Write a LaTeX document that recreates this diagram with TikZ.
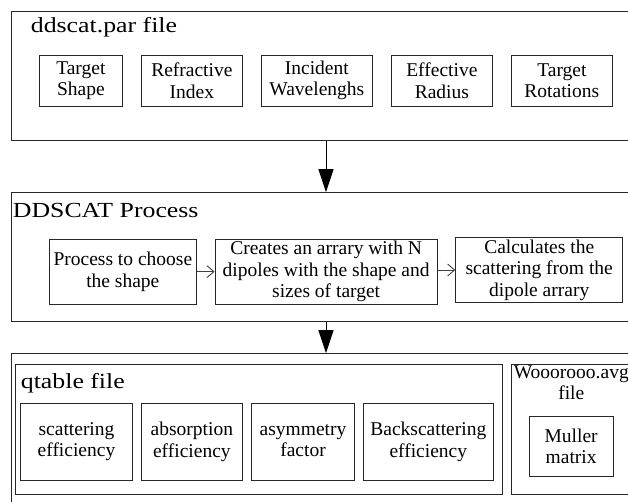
\documentclass[tikz,border=0pt]{standalone}
\usepackage{fontspec}
\setmainfont{Liberation Serif}
\newfontfamily\titlefont[FakeStretch=1.2]{Liberation Serif}
\usetikzlibrary{arrows.meta}
\tikzset{
  x=1pt, y=-1pt,
  every node/.style={font=\fontsize{19.5}{21.5}\selectfont},
  container/.style={draw=black!85, line width=1pt, rectangle, inner sep=0pt},
  itembox/.style={draw=black!85, line width=0.9pt, rectangle, inner sep=0pt, align=center},
  titletext/.style={font=\titlefont\fontsize{21.5}{24}\selectfont, anchor=base west, inner sep=0pt},
  plaintext/.style={inner sep=0pt, anchor=base},
  bigarrow/.style={line width=1pt, draw=black, -{Triangle[length=23pt,width=15pt]}},
  smallarrow/.style={line width=0.9pt, draw=black!75, -{Straight Barb[length=7pt,width=12pt]}}
}
\begin{document}
\begin{tikzpicture}
\fill[white] (0,0) rectangle (628,502);
\useasboundingbox (0,0) rectangle (628,502);
\clip (0,0) rectangle (628,502);

% ---- ddscat.par file ----
\node[container, minimum width=628.6pt, minimum height=129pt] (par) at (326,76.2) {};
\node[titletext] (partitle) at (30.7,32.3) {ddscat.par file};
\node[itembox, minimum width=83.7pt, minimum height=51pt] (shape) at (80.85,80.5) {Target\\Shape};
\node[itembox, minimum width=101.7pt, minimum height=51pt] (index) at (191.85,80.5) {Refractive\\Index};
\node[itembox, minimum width=111.7pt, minimum height=51pt] (wave) at (316.85,80.5) {Incident\\Wavelenghs};
\node[itembox, minimum width=101.7pt, minimum height=51pt] (radius) at (441.85,80.5) {Effective\\Radius};
\node[itembox, minimum width=101.7pt, minimum height=51pt] (rot) at (561.85,80.5) {Target\\Rotations};

% ---- DDSCAT Process ----
\node[container, minimum width=628.6pt, minimum height=129pt] (proc) at (326,257.2) {};
\node[titletext] (proctitle) at (12.7,217.3) {DDSCAT Process};
\node[itembox, minimum width=147.7pt, minimum height=65.3pt] (choose) at (122.85,271.65) {Process to choose\\the shape};
\node[itembox, minimum width=222.3pt, minimum height=65pt] (create) at (326.15,271.5) {Creates an arrary with N\\dipoles with the shape and\\sizes of target};
\node[itembox, minimum width=167pt, minimum height=65.4pt] (calc) at (539.2,270) {Calculates the\\scattering from the\\dipole arrary};

% ---- output ----
\node[container, minimum width=628.6pt, minimum height=161.3pt] (out) at (326,434.35) {};
\node[container, line width=0.9pt, minimum width=487.3pt, minimum height=129.7pt] (qtable) at (258.65,429.15) {};
\node[titletext] (qtitle) at (20.7,388.3) {qtable file};
\node[itembox, minimum width=111.6pt, minimum height=76.7pt] (qsca) at (76.5,441.65) {scattering\\efficiency};
\node[itembox, minimum width=101.7pt, minimum height=76.7pt] (qabs) at (191.85,441.65) {absorption\\efficiency};
\node[itembox, minimum width=102.6pt, minimum height=76.7pt] (asym) at (303,441.65) {\raisebox{4pt}{\begin{tabular}{@{}c@{}}asymmetry\\factor\end{tabular}}};
\node[itembox, minimum width=130pt, minimum height=76.7pt] (qback) at (428.3,441.65) {Backscattering\\efficiency};

\node[container, line width=0.9pt, minimum width=129pt, minimum height=129.7pt] (avg) at (575.5,429.15) {};
\node[plaintext] (avgname) at (571.3,378.3) {Wooorooo.avg};
\node[plaintext] (avgfile) at (571.3,399.3) {file};
\node[itembox, minimum width=84.3pt, minimum height=60.7pt] (muller) at (571.15,446.35) {Muller\\matrix};

% ---- connectors ----
\draw[bigarrow] (par.south) -- (proc.north);
\draw[bigarrow] (proc.south) -- (out.north);
\draw[smallarrow] (choose.east) -- (choose.east -| create.west);
\draw[smallarrow] (calc.west -| create.east) -- (calc.west);
\end{tikzpicture}
\end{document}
